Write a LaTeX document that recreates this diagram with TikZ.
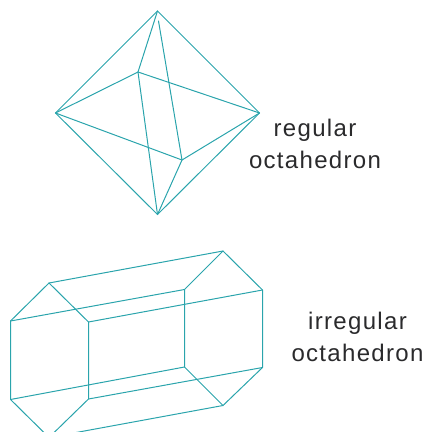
\documentclass[tikz,border=0pt]{standalone}
\usepackage{fontspec}
\setmainfont[LetterSpace=5.5]{Liberation Sans}
\definecolor{edge}{HTML}{2AA4AC}
\definecolor{ink}{HTML}{2A2A2C}
\tikzset{
  crystal/.style={draw=edge,line width=1pt,line join=miter,line cap=round},
  tag/.style={text=ink,font=\fontsize{24}{32}\selectfont,align=center,inner sep=0pt,anchor=center}
}
\begin{document}
\begin{tikzpicture}[x=1pt,y=-1pt]
\useasboundingbox (0,0) rectangle (427,432);
\clip (0,0) rectangle (427,432);
% regular
\coordinate (T) at (157.5,11);
\coordinate (L) at (55.5,113);
\coordinate (R) at (259.5,113);
\coordinate (B) at (157.5,214.5);
\coordinate (A) at (138,72);
\coordinate (C) at (182,160);
\coordinate (Cs) at (158.5,21);
\draw[crystal] (T) -- (R) -- (B) -- (L) -- cycle;
\draw[crystal] (T) -- (A) -- (B);
\draw[crystal] (L) -- (A) -- (R);
\draw[crystal] (L) -- (C) -- (R);
\draw[crystal] (Cs) -- (C) -- (B);
% irregular
\coordinate (a) at (10.5,321);
\coordinate (b) at (49,283);
\coordinate (c) at (88.5,322);
\coordinate (d) at (88.5,399);
\coordinate (f) at (49,437.5);
\coordinate (e) at (10.5,399.5);
\coordinate (g) at (184.5,289.5);
\coordinate (h) at (223,251);
\coordinate (i) at (262.5,290);
\coordinate (j) at (262.5,367.5);
\coordinate (k) at (223,405.5);
\coordinate (l) at (184.5,367);
\draw[crystal] (a) -- (b) -- (c) -- (d) -- (f) -- (e) -- cycle;
\draw[crystal] (g) -- (h) -- (i) -- (j) -- (k) -- (l) -- cycle;
\draw[crystal] (a) -- (g);
\draw[crystal] (b) -- (h);
\draw[crystal] (c) -- (i);
\draw[crystal] (d) -- (j);
\draw[crystal] (e) -- (l);
\draw[crystal] (f) -- (k);
% labels
\node[tag] (t1) at (315,143.5) {regular\\octahedron};
\node[tag] (t2) at (357.5,337) {irregular\\octahedron};
\end{tikzpicture}
\end{document}
